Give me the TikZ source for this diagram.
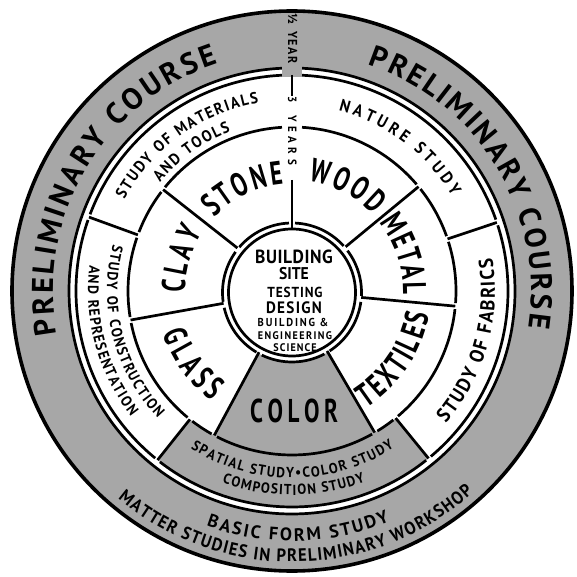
\documentclass[tikz,border=0pt]{standalone}
\usepackage{fontspec}
\setmainfont{PT Sans}
\newfontfamily\condfont{PT Sans}[FakeStretch=0.7]
\newfontfamily\medfont{PT Sans}[FakeStretch=0.92]
\usetikzlibrary{decorations.text}
\definecolor{bandgray}{RGB}{167,167,167}
\newcommand{\setfs}[1]{\fontsize{#1}{#1}\selectfont}
\newcommand{\arctext}[5]{\path[decorate,decoration={text along path,text={|#4|#5},text align=fit to path}] (#2:#1) arc[start angle=#2,end angle=#3,radius=#1];}
\newcommand{\matfont}{\condfont\bfseries\setfs{33}}
\newcommand{\mf}{\medfont\bfseries}
\begin{document}
\begin{tikzpicture}[x=1pt,y=1pt,
  ln/.style={line width=2.7pt},
  ctext/.style={inner sep=0pt,anchor=center}]
\fill[white] (-292,-286) rectangle (284,291);
\useasboundingbox (-292,-286) rectangle (284,291);
% fills
\fill[bandgray,even odd rule] (0,0) circle[radius=280] (0,0) circle[radius=223];
\fill[bandgray] (231.5:164) arc[start angle=231.5,end angle=309.2,radius=164] -- (309.2:216) arc[start angle=309.2,end angle=231.5,radius=216] -- cycle;
\fill[bandgray] (241.7:71) arc[start angle=241.7,end angle=300.3,radius=71] -- (300.3:164) arc[start angle=300.3,end angle=241.7,radius=164] -- cycle;
\fill[bandgray] (-10,214) rectangle (10,226);
% circles and arcs
\draw[line width=3.6pt] (0,0) circle[radius=280];
\draw[ln] (92.6:223) arc[start angle=92.6,end angle=447.4,radius=223];
\foreach \a/\b in {92.7/159.2,160.8/230.7,232.3/308.4,310/377.7,19.3/87.3}
  \draw[ln] (\a:216) arc[start angle=\a,end angle=\b,radius=216];
\foreach \a/\b in {19.55/38.45,40.55/86.5,93.5/140.75,142.85/158.95,161.05/189.15,191.25/230.45,232.55/240.65,242.75/299.25,301.35/308.15,310.25/353.65,355.75/377.45}
  \draw[ln] (\a:164) arc[start angle=\a,end angle=\b,radius=164];
\begin{scope}[shift={(0,-1.5)}]
\foreach \a/\b in {42/87.5,92.5/139.3,144.3/187.7,192.7/239.2,244.2/297.8,302.8/352.2,357.2/397}
  \draw[ln] (\a:69.5) arc[start angle=\a,end angle=\b,radius=69.5];
\draw[ln] (0,0) circle[radius=63.5];
\end{scope}
% dividers
\foreach \a in {39.5,141.8,190.2,241.7,300.3,354.7}
  \draw[ln] (\a:69.5) -- (\a:164);
\foreach \a in {18.5,160,231.5,309.2}
  \draw[ln] (\a:164) -- (\a:216);
\draw[ln] (0,216) -- (0,195);
\draw[ln] (0,111) -- (0,62);
% outer band texts
\arctext{239}{190.5}{108}{\bfseries\setfs{30}}{PRELIMINARY COURSE}
\arctext{239}{71.5}{-8.8}{\bfseries\setfs{30}}{PRELIMINARY COURSE}
\arctext{250}{-110}{-67}{\bfseries\setfs{18}}{BASIC FORM STUDY}
\arctext{271}{-130}{-48}{\mf\setfs{18}}{MATTER STUDIES IN PRELIMINARY WORKSHOP}
% ring 1 texts
\arctext{191}{151.3}{100}{\mf\setfs{16}}{STUDY OF MATERIALS}
\arctext{171}{140.5}{111}{\mf\setfs{16}}{AND TOOLS}
\arctext{186}{75.5}{30.6}{\mf\setfs{17}}{NATURE STUDY}
\arctext{203}{-40.7}{9.4}{\mf\setfs{20}}{STUDY OF FABRICS}
\arctext{185}{165.3}{223.5}{\mf\setfs{15}}{STUDY OF CONSTRUCTION}
\arctext{204}{172.7}{217.9}{\mf\setfs{15}}{AND REPRESENTATION}
\arctext{187}{-122.8}{-56.9}{\mf\setfs{14.5}}{SPATIAL STUDY•COLOR STUDY}
\arctext{204}{-110}{-69}{\mf\setfs{14.5}}{COMPOSITION STUDY}
% ring 2 texts
\arctext{107}{136.7}{94.5}{\matfont}{STONE}
\arctext{111.5}{81.5}{43.3}{\matfont}{WOOD}
\arctext{111}{38}{-1.5}{\matfont}{METAL}
\arctext{139}{-57.4}{-9.8}{\matfont}{TEXTILES}
\arctext{136}{198.4}{234.1}{\matfont}{GLASS}
\arctext{107}{181}{147}{\matfont}{CLAY}
\path[decorate,decoration={text along path,text={|\matfont|COLOR},text align=fit to path}] (-42,-131) -- (46,-131);
% vertical labels
\path[decorate,decoration={text along path,text={|\mf\setfs{13}|½ YEAR},text align=fit to path}] (-4,277) -- (-4,227);
\path[decorate,decoration={text along path,text={|\mf\setfs{12}|3 YEARS},text align=fit to path}] (-4,194) -- (-4,126);
% centre texts
\node[ctext] (c1) at (2,34.5) {\mf\setfs{19}\addfontfeature{LetterSpace=3}BUILDING};
\node[ctext] (c2) at (2,17) {\mf\setfs{17}SITE};
\node[ctext] (c3) at (3,-1) {\mf\setfs{14.5}\addfontfeature{LetterSpace=6}TESTING};
\node[ctext] (c4) at (2,-16.5) {\mf\setfs{16.5}\addfontfeature{LetterSpace=8}DESIGN};
\node[ctext] (c5) at (1,-31) {\mf\setfs{11.5}\addfontfeature{LetterSpace=16}BUILDING \&};
\node[ctext] (c6) at (3,-44.5) {\mf\setfs{11}\addfontfeature{LetterSpace=13}ENGINEERING};
\node[ctext] (c7) at (3,-56.5) {\mf\setfs{11}\addfontfeature{LetterSpace=10}SCIENCE};
\end{tikzpicture}
\end{document}
